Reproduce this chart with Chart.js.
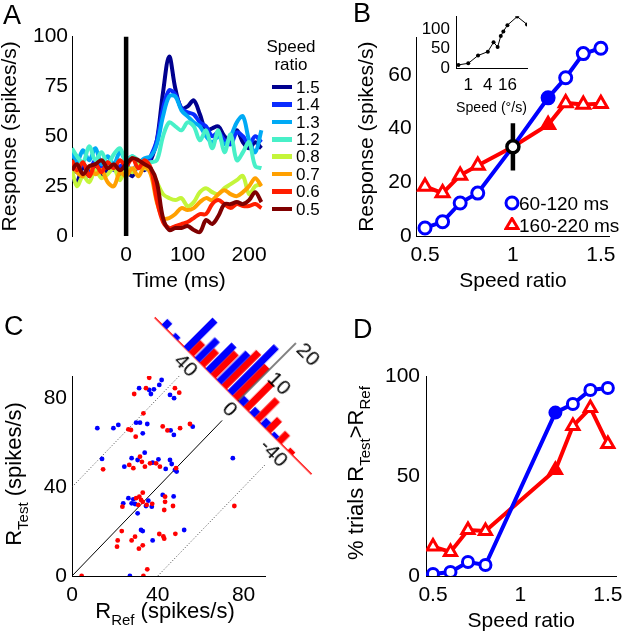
<!DOCTYPE html>
<html>
<head>
<meta charset="utf-8">
<title>Speed ratio responses</title>
<script src="https://cdn.jsdelivr.net/npm/chart.js@4.4.1/dist/chart.umd.min.js"></script>
<style>
  body { margin: 0; background: #fff; }
  #fig { position: relative; width: 623px; height: 640px; overflow: hidden;
         font-family: "Liberation Sans", Arial, sans-serif; color: #000; background: #fff; }
  #fig canvas { position: absolute; }
  .letter { position: absolute; font-size: 27px; line-height: 27px; }
  .txt { position: absolute; white-space: nowrap; }
  .sub { font-size: 15px; position: relative; top: 7px; }
  .rot { position: absolute; white-space: nowrap; text-align: center; transform: rotate(-90deg); }
</style>
</head>
<body>
<div id="fig">
  <canvas id="chartA" width="300" height="280" style="left:0;top:20px"></canvas>
  <canvas id="chartB" width="283" height="280" style="left:340px;top:20px"></canvas>
  <canvas id="chartInset" width="120" height="117" style="left:420px;top:0"></canvas>
  <canvas id="chartC" width="300" height="310" style="left:0;top:330px"></canvas>
  <canvas id="chartHist" width="222" height="126"></canvas>
  <canvas id="chartD" width="300" height="320" style="left:330px;top:320px"></canvas>

  <div class="letter" style="left:3px;top:2px">A</div>
  <div class="letter" style="left:353px;top:0">B</div>
  <div class="letter" style="left:4px;top:313px">C</div>
  <div class="letter" style="left:353px;top:316px">D</div>

  <div id="legendA"></div>
  <div id="legendB"></div>

  <div class="txt" style="left:0;width:330px;top:600px;text-align:center;font-size:22px;line-height:22px">R<span class="sub">Ref</span> (spikes/s)</div>
  <div class="rot" style="left:-136px;width:300px;top:463px;height:22px;font-size:22px;line-height:22px">R<span class="sub">Test</span> (spikes/s)</div>
  <div class="rot" style="left:206px;width:300px;top:462px;height:22px;font-size:22px;line-height:22px">% trials R<span class="sub">Test</span>&gt;R<span class="sub">Ref</span></div>
</div>

<script>
// ---------- Panel A: mean response over time, one trace per speed ratio ----------
const timeMs = [-88, -80, -70, -60, -50, -40, -30, -20, -10, 0, 10, 20, 30, 40, 50, 60,
                70, 80, 90, 100, 110, 120, 130, 140, 150, 160, 170, 180, 190, 200, 210, 220];
const speedRatios = ['1.5', '1.4', '1.3', '1.2', '0.8', '0.7', '0.6', '0.5'];
const resp15 = [29, 27, 35, 30, 36, 30, 34, 36, 31, 33, 30, 36, 33, 38, 48, 72,
                90, 74, 64, 65, 68, 61, 53, 54, 55, 50, 48, 53, 47, 44, 47, 44];
const resp14 = [34, 32, 36, 33, 38, 34, 37, 33, 35, 36, 32, 37, 34, 40, 48, 64,
                73, 71, 64, 62, 61, 57, 55, 50, 52, 48, 46, 52, 50, 46, 50, 47];
const resp13 = [42, 37, 43, 38, 44, 36, 40, 36, 42, 38, 40, 37, 39, 40, 46, 60,
                70, 70, 63, 60, 57, 55, 50, 47, 50, 46, 50, 57, 60, 48, 42, 53];
const resp12 = [44, 40, 37, 45, 38, 42, 36, 41, 44, 37, 40, 38, 37, 37, 38, 50,
                57, 55, 53, 57, 55, 48, 53, 44, 53, 42, 51, 38, 42, 47, 35, 34];
const resp08 = [33, 25, 30, 27, 33, 29, 31, 34, 28, 35, 32, 36, 34, 33, 27, 21,
                19, 18, 19, 15, 17, 22, 24, 22, 21, 24, 26, 28, 30, 21, 25, 26];
const resp07 = [36, 32, 30, 35, 31, 33, 27, 25, 32, 30, 34, 30, 35, 31, 17, 9,
                9, 11, 14, 13, 14, 17, 19, 18, 21, 23, 21, 20, 22, 25, 29, 25];
const resp06 = [38, 33, 37, 30, 36, 32, 37, 34, 38, 35, 39, 34, 38, 34, 18, 7,
                4, 5, 6, 7, 9, 11, 11, 16, 18, 16, 14, 16, 15, 15, 16, 14];
const resp05 = [33, 36, 31, 35, 36, 38, 34, 36, 33, 36, 39, 38, 36, 34, 27, 9,
                3, 4, 4, 5, 3, 2, 8, 6, 10, 16, 16, 17, 16, 18, 22, 17];
const stimOnsetMs = 0;
const stimLineSpan = [0, 100];
const ticksA_x = [0, 100, 200];
const ticksA_y = [0, 25, 50, 75, 100];

// ---------- Panel B: response vs speed ratio, two analysis windows ----------
const ratioB = [0.5, 0.6, 0.7, 0.8, 1.0, 1.2, 1.3, 1.4, 1.5];
const earlyResp = [3, 5.3, 12.3, 16, 33.3, 51.5, 59, 68, 70];
const lateResp = [18.5, 16, 22.6, 26.3, 33.3, 41.5, 49.6, 49, 49.3];
const refRatio = 1.0;
const refResp = 33.3;
const refRespRange = [24.4, 42];
const filledRatio = 1.2;
const ticksB_x = [0.5, 1, 1.5];
const ticksB_y = [0, 20, 40, 60];

// inset: speed tuning
const tuningSpeeds = [0.5, 1, 2, 4, 6, 8, 10, 12, 16, 32, 64];
const tuningResp = [8, 12, 32, 42, 66, 54, 82, 94, 110, 132, 112];
const ticksIn_x = [1, 4, 16];
const ticksIn_y = [0, 50, 100];

// ---------- Panel C: single trial R_Test vs R_Ref ----------
const earlyRef = [41.8, 40.7, 31.3, 36.0, 38.2, 36.8, 45.7, 47.6,
                  11.8, 19.3, 21.6, 29.9, 31.7, 35.1, 33.0, 46.0, 47.5, 56.3,
                  14.0, 24.4, 27.8, 30.6, 33.9, 37.6, 40.3, 43.7, 45.7, 46.5, 48.0, 48.8, 75.0,
                  23.9, 26.3, 27.8, 28.6, 29.4, 30.6, 34.5, 35.6, 37.2, 42.3, 47.4,
                  32.2, 33.0, 37.6, 52.3,
                  27.0];
const earlyTest = [88.2, 86.0, 84.5, 83.7, 84.0, 81.9, 81.5, 80.0,
                   66.5, 66.5, 68.0, 69.0, 69.0, 68.4, 64.2, 65.5, 63.5, 67.2,
                   52.7, 49.2, 53.0, 52.2, 55.5, 51.0, 52.5, 48.2, 52.2, 50.4, 47.7, 47.0, 53.0,
                   32.7, 35.0, 32.7, 34.5, 32.4, 28.2, 31.5, 33.9, 31.2, 36.5, 35.8,
                   20.7, 20.2, 16.0, 20.7,
                   0];
const lateRef = [36.0, 34.5, 29.0, 48.0, 50.0,
                 33.3, 26.3, 27.5, 29.7, 42.3, 44.5, 50.4, 55.0,
                 14.5, 26.7, 28.6, 31.7, 32.6, 34.0, 36.4, 39.2, 41.0, 48.5,
                 23.5, 29.9, 31.4, 32.2, 30.9, 33.0, 33.0, 34.8, 37.4, 43.4, 43.4, 43.0, 47.1, 75.7,
                 23.2, 21.3, 21.0, 27.8, 29.4, 31.2, 33.0, 40.7, 42.6, 43.0, 48.2,
                 4.5, 33.3, 35.1];
const lateTest = [89.2, 84.5, 81.9, 84.5, 82.5,
                  73.2, 66.0, 65.7, 62.7, 67.3, 65.5, 66.5, 68.4,
                  48.0, 50.0, 48.5, 53.7, 51.4, 49.2, 50.7, 50.7, 49.2, 48.5,
                  31.2, 35.0, 35.7, 34.2, 32.0, 33.4, 37.5, 32.0, 32.5, 35.7, 33.4, 29.7, 31.5, 31.5,
                  20.2, 16.0, 13.2, 16.0, 17.7, 12.3, 13.8, 18.9, 17.8, 16.8, 19.0,
                  0, 0, 3.0];
const unityLine = [[0, 0], [70, 70]];
const upperBound = [[0, 40], [50, 90]];
const lowerBound = [[40, 0], [90, 50]];
const ticksC = [0, 40, 80];

// histogram of R_Test - R_Ref, drawn along the anti-diagonal
const diffBins = [65, 55, 45, 35, 25, 15, 5, -5, -15, -25, -35, -45];
const earlyDiffCounts = [2, 1, 10, 7, 9, 10, 16, 2, 2, 2, 1, 0];
const lateDiffCounts = [0, 0, 4, 5, 8, 12, 11, 9, 7, 4, 3, 1];
const diffTicks = [40, 0, -40];
const countTicks = [10, 20];
const countAxisTop = 20;

// ---------- Panel D: % trials with R_Test > R_Ref ----------
const ratioD = [0.5, 0.6, 0.7, 0.8, 1.2, 1.3, 1.4, 1.5];
const earlyPct = [1, 2, 7, 5.5, 81.7, 86, 93, 94];
const latePct = [14.7, 12, 23, 22.5, 53, 75, 84, 66];
const ticksD_y = [0, 50, 100];

// ---------- styles ----------
const traceColors = ['#00008f', '#0a2cff', '#00aaf5', '#48f0c8', '#c4f53a', '#ffa000', '#ff1e00', '#800000'];
const BLUE = '#0000ff';
const RED = '#ff0000';
const FONT = '"Liberation Sans", Arial, sans-serif';

Chart.defaults.font.family = FONT;
Chart.defaults.font.size = 21;
Chart.defaults.color = '#000';
Chart.defaults.animation = false;
Chart.defaults.responsive = false;
Chart.defaults.events = [];
Chart.defaults.plugins.legend.display = false;
Chart.defaults.plugins.tooltip.enabled = false;

// axis with fixed thickness so plot areas line up with the figure
function makeAxis(o) {
  return {
    type: o.type || 'linear',
    min: o.min,
    max: o.max,
    reverse: !!o.reverse,
    offset: false,
    display: o.display !== false,
    grid: { display: false, drawTicks: false },
    border: { display: o.border !== false, color: o.borderColor || '#000', width: o.borderWidth || 1 },
    ticks: {
      padding: o.pad || 0,
      autoSkip: false,
      maxRotation: 0,
      minRotation: 0,
      font: { size: o.fontSize || 21 },
      callback: v => v
    },
    title: o.title
      ? { display: true, text: o.title, font: { size: o.titleSize || 21, lineHeight: 1 }, padding: o.titlePad }
      : { display: false },
    afterBuildTicks: s => { s.ticks = o.ticks.map(v => ({ value: v })); },
    afterFit: s => { if (s.isHorizontal()) s.height = o.size; else s.width = o.size; }
  };
}

function pts(xs, ys) {
  return xs.map((x, i) => ({ x: x, y: ys[i] }));
}

// ---------- Panel A ----------
const traces = [resp15, resp14, resp13, resp12, resp08, resp07, resp06, resp05];
const traceSets = traces.map((arr, i) => ({
  data: pts(timeMs, arr),
  borderColor: traceColors[i],
  borderWidth: 4,
  pointRadius: 0,
  tension: 0.35
})).reverse(); // 0.5 drawn last in the original, so it sits on top

new Chart(document.getElementById('chartA'), {
  type: 'line',
  data: {
    datasets: [
      { data: stimLineSpan.map(y => ({ x: stimOnsetMs, y })), borderColor: '#000', borderWidth: 4.5, pointRadius: 0 },
      ...traceSets
    ]
  },
  options: {
    layout: { padding: { top: 15, right: 14, left: 0, bottom: 0 } },
    scales: {
      x: makeAxis({ min: -88, max: 260, ticks: ticksA_x, size: 64, pad: 7, border: false,
                    title: 'Time (ms)', titlePad: { top: 0, bottom: 8 } }),
      y: makeAxis({ min: 0, max: 100, ticks: ticksA_y, size: 72, pad: 4,
                    title: 'Response (spikes/s)', titlePad: { top: 0, bottom: 0 } })
    }
  }
});

// legend for A
const legendA = document.getElementById('legendA');
legendA.innerHTML =
  '<div class="txt" style="left:262px;top:38px;width:58px;text-align:center;font-size:17px;line-height:17px">Speed</div>' +
  '<div class="txt" style="left:262px;top:56px;width:58px;text-align:center;font-size:17px;line-height:17px">ratio</div>' +
  speedRatios.map((r, i) => {
    const cy = 87 + i * 17.4;
    return '<div style="position:absolute;left:272px;top:' + (cy - 2.2) + 'px;width:20px;height:4.5px;background:' + traceColors[i] + '"></div>' +
           '<div class="txt" style="left:296px;top:' + (cy - 8.3) + 'px;font-size:17px;line-height:17px">' + r + '</div>';
  }).join('');

// ---------- Panel B ----------
new Chart(document.getElementById('chartB'), {
  type: 'line',
  data: {
    datasets: [
      { data: [{ x: refRatio, y: refResp }], showLine: false, pointRadius: 6, pointBorderWidth: 3.5,
        pointBorderColor: '#000', pointBackgroundColor: '#fff' },
      { data: refRespRange.map(y => ({ x: refRatio, y })), borderColor: '#000', borderWidth: 4.5, pointRadius: 0 },
      { data: pts(ratioB, earlyResp), borderColor: BLUE, borderWidth: 4, tension: 0,
        pointStyle: 'circle', pointRadius: ratioB.map(r => r === refRatio ? 0 : 6), pointBorderWidth: 3,
        pointBorderColor: BLUE, pointBackgroundColor: ratioB.map(r => r === filledRatio ? BLUE : '#fff') },
      { data: pts(ratioB, lateResp), borderColor: RED, borderWidth: 4, tension: 0,
        pointStyle: 'triangle', pointRadius: ratioB.map(r => r === refRatio ? 0 : 7.5), pointBorderWidth: 3,
        pointBorderColor: RED, pointBackgroundColor: ratioB.map(r => r === filledRatio ? RED : '#fff') }
    ]
  },
  options: {
    layout: { padding: { top: 17.5, right: 12, left: 0, bottom: 0 } },
    scales: {
      x: makeAxis({ min: 0.45, max: 1.55, ticks: ticksB_x, size: 64, pad: 7,
                    title: 'Speed ratio', titlePad: { top: 0, bottom: 8 } }),
      y: makeAxis({ min: 0, max: 74, ticks: ticksB_y, size: 76.2, pad: 4.5,
                    title: 'Response (spikes/s)', titlePad: { top: 17, bottom: 0 } })
    }
  }
});

// legend for B
document.getElementById('legendB').innerHTML =
  '<svg style="position:absolute;left:504px;top:195px" width="16" height="16"><circle cx="8" cy="8" r="6" fill="#fff" stroke="' + BLUE + '" stroke-width="3"/></svg>' +
  '<div class="txt" style="left:519px;top:193.7px;font-size:19px;line-height:19px">60-120 ms</div>' +
  '<svg style="position:absolute;left:504px;top:217px" width="16" height="16"><polygon points="8,1.5 14,11.5 2,11.5" fill="#fff" stroke="' + RED + '" stroke-width="3"/></svg>' +
  '<div class="txt" style="left:519px;top:215.7px;font-size:19px;line-height:19px">160-220 ms</div>';

// ---------- Inset ----------
new Chart(document.getElementById('chartInset'), {
  type: 'line',
  data: {
    datasets: [{ data: pts(tuningSpeeds, tuningResp), borderColor: '#000', borderWidth: 1, tension: 0,
                 pointRadius: 2, pointBorderWidth: 0, pointBackgroundColor: '#000' }]
  },
  options: {
    layout: { padding: { top: 2, right: 13, left: 0, bottom: 0 } },
    scales: {
      x: makeAxis({ type: 'logarithmic', min: 0.42, max: 64, ticks: ticksIn_x, size: 49, pad: 7, fontSize: 17,
                    title: 'Speed (\u00b0/s)', titleSize: 15, titlePad: { top: 0, bottom: 1.5 } }),
      y: makeAxis({ min: 0, max: 133, ticks: ticksIn_y, size: 36, pad: 6, fontSize: 17 })
    }
  }
});

// ---------- Panel C scatter ----------
const refLine = (pair, dash) => ({
  data: pair.map(p => ({ x: p[0], y: p[1] })), showLine: true, borderColor: dash ? '#444' : '#000',
  borderWidth: 1, borderDash: dash ? [1, 2] : [], pointRadius: 0
});

new Chart(document.getElementById('chartC'), {
  type: 'scatter',
  data: {
    datasets: [
      { data: pts(lateRef, lateTest), pointRadius: 2.4, pointBorderWidth: 0, pointBackgroundColor: RED },
      { data: pts(earlyRef, earlyTest), pointRadius: 2.4, pointBorderWidth: 0, pointBackgroundColor: BLUE },
      refLine(unityLine, false),
      refLine(upperBound, true),
      refLine(lowerBound, true)
    ]
  },
  options: {
    layout: { padding: { top: 46, right: 35, left: 0, bottom: 0 } },
    scales: {
      x: makeAxis({ min: 0, max: 90, ticks: ticksC, size: 64, pad: 7 }),
      y: makeAxis({ min: 0, max: 90, ticks: ticksC, size: 72, pad: 5 })
    }
  }
});

// ---------- Panel C histogram (rotated 45 degrees onto the anti-diagonal) ----------
const countAxisPlugin = {
  id: 'countAxis',
  afterDatasetsDraw(chart) {
    const { ctx, scales: { x, y } } = chart;
    const x0 = x.getPixelForValue(0);
    ctx.save();
    ctx.strokeStyle = '#000';
    ctx.lineWidth = 1;
    ctx.beginPath();
    ctx.moveTo(x0, y.getPixelForValue(0));
    ctx.lineTo(x0, y.getPixelForValue(countAxisTop));
    ctx.stroke();
    ctx.fillStyle = '#000';
    ctx.font = '21px ' + FONT;
    ctx.textAlign = 'left';
    ctx.textBaseline = 'middle';
    countTicks.forEach(v => ctx.fillText(String(v), x0 + 5, y.getPixelForValue(v)));
    ctx.restore();
  }
};

const histChart = new Chart(document.getElementById('chartHist'), {
  type: 'bar',
  data: {
    datasets: [
      { data: pts(diffBins, earlyDiffCounts), backgroundColor: BLUE, barPercentage: 1, categoryPercentage: 0.92 },
      { data: pts(diffBins, lateDiffCounts), backgroundColor: RED, barPercentage: 1, categoryPercentage: 0.92 }
    ]
  },
  options: {
    layout: { padding: { top: 14, right: 0, left: 0, bottom: 0 } },
    scales: {
      x: makeAxis({ min: -67, max: 76, reverse: true, ticks: diffTicks, size: 26, pad: 0,
                    borderColor: RED, borderWidth: 1.5 }),
      y: makeAxis({ min: 0, max: 21, ticks: countTicks, size: 0, display: false })
    }
  },
  plugins: [countAxisPlugin]
});

// pin the zero of the difference axis onto the diagonal of the scatter
const histOrigin = [238, 401];
const hx = histChart.scales.x.getPixelForValue(0);
const hy = histChart.scales.y.getPixelForValue(0);
const histCanvas = histChart.canvas;
histCanvas.style.left = (histOrigin[0] - hx) + 'px';
histCanvas.style.top = (histOrigin[1] - hy) + 'px';
histCanvas.style.transformOrigin = hx + 'px ' + hy + 'px';
histCanvas.style.transform = 'rotate(45deg)';

// ---------- Panel D ----------
new Chart(document.getElementById('chartD'), {
  type: 'line',
  data: {
    datasets: [
      { data: pts(ratioD, earlyPct), borderColor: BLUE, borderWidth: 4, tension: 0,
        pointStyle: 'circle', pointRadius: 5.5, pointBorderWidth: 3, pointBorderColor: BLUE,
        pointBackgroundColor: ratioD.map(r => r === filledRatio ? BLUE : '#fff') },
      { data: pts(ratioD, latePct), borderColor: RED, borderWidth: 4, tension: 0,
        pointStyle: 'triangle', pointRadius: 7, pointBorderWidth: 3, pointBorderColor: RED,
        pointBackgroundColor: ratioD.map(r => r === filledRatio ? RED : '#fff') }
    ]
  },
  options: {
    layout: { padding: { top: 56, right: 12, left: 0, bottom: 0 } },
    scales: {
      x: makeAxis({ min: 0.46, max: 1.55, ticks: ticksB_x, size: 64, pad: 7,
                    title: 'Speed ratio', titlePad: { top: 0, bottom: 8 } }),
      y: makeAxis({ min: 0, max: 100, ticks: ticksD_y, size: 96, pad: 6 })
    }
  }
});
</script>
</body>
</html>
